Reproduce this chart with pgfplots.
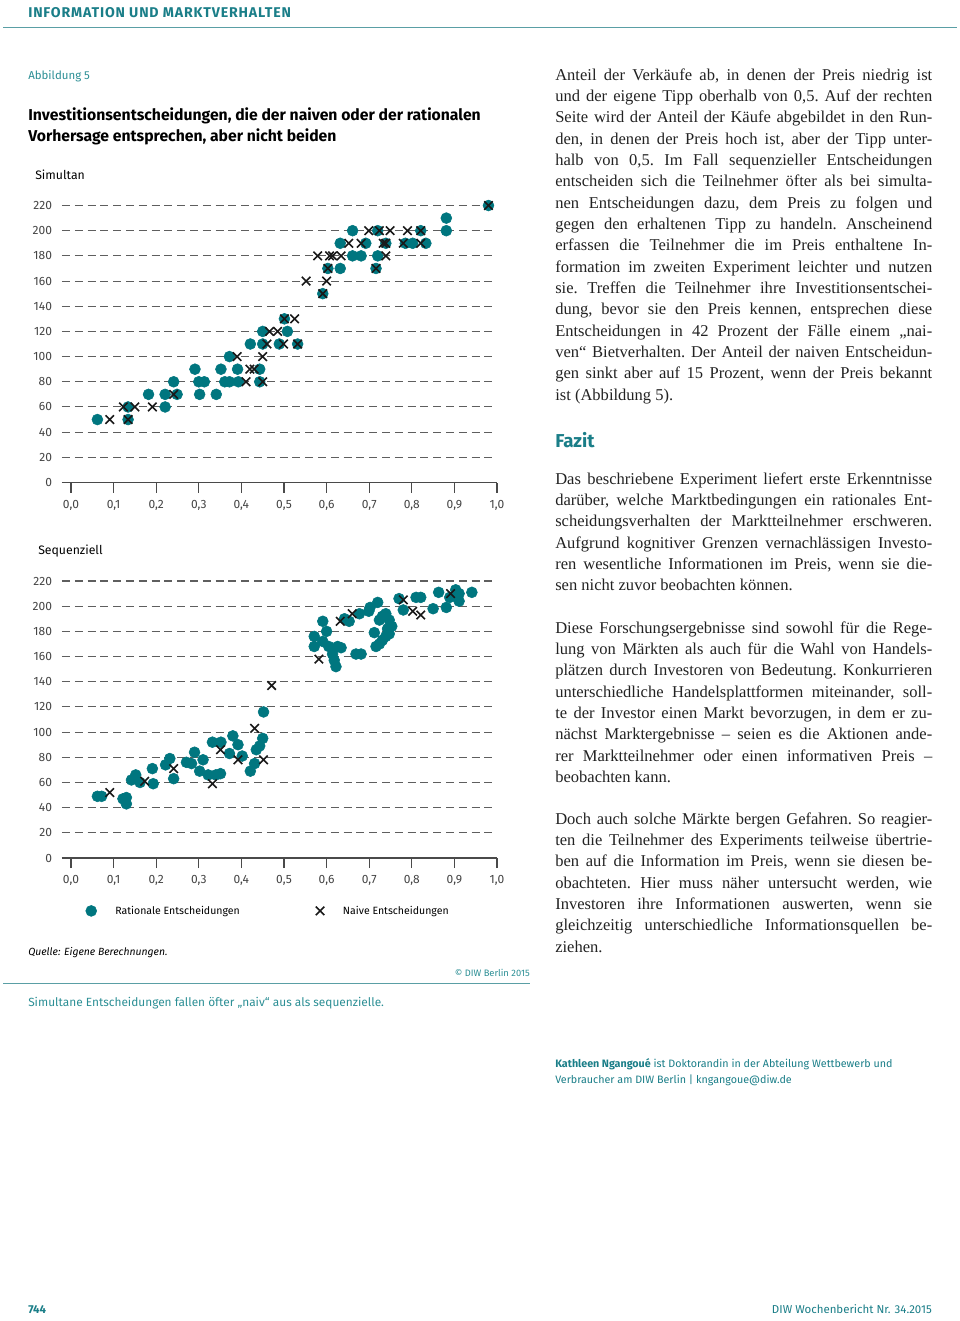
\documentclass[border=0pt]{standalone}
\usepackage{fontspec}
\usepackage{graphicx}
\usepackage{pgfplots}
\pgfplotsset{compat=1.18}
\setmainfont{Liberation Serif}
\newfontfamily\fs{Fira Sans}
\definecolor{diwteal}{HTML}{1A7E88}
\definecolor{capteal}{HTML}{2C8F95}
\definecolor{dotteal}{HTML}{00767F}
\definecolor{lineteal}{HTML}{5A9FA5}
\definecolor{axisgray}{HTML}{4A4A4A}
\definecolor{gridgray}{HTML}{5E5E5E}
\definecolor{ticklab}{HTML}{444444}
\definecolor{bodytext}{HTML}{222222}
\newcommand{\BW}{282.75pt}
\newlength\natw
\newcommand{\bodyfont}{\fontsize{12.4pt}{16pt}\selectfont\frenchspacing\color{bodytext}}
\newcommand{\fitline}[1]{\settowidth{\natw}{#1}\ifdim\natw>\BW\relax\resizebox{\BW}{\height}{#1}\else\makebox[\BW][s]{#1}\fi}
\newcommand{\JL}[2]{\node[anchor=base west,inner sep=0pt] at (555,#1) {\bodyfont\fitline{#2}};}
\newcommand{\LL}[2]{\node[anchor=base west,inner sep=0pt] at (555,#1) {\bodyfont #2};}
\pgfplotsset{diwaxis/.style={
  scale only axis, width=326.25pt, height=207.75pt,
  xmin=-0.0211, xmax=1, ymin=0, ymax=220,
  axis x line*=bottom, axis y line*=left,
  y axis line style={draw=none},
  x axis line style={draw=axisgray, line width=0.9pt},
  xtick={0,0.1,0.2,0.3,0.4,0.5,0.6,0.7,0.8,0.9,1},
  ytick={0,20,40,60,80,100,120,140,160,180,200,220},
  xtick align=outside, major tick length=7.5pt,
  xtick style={draw=axisgray, line width=0.9pt},
  ytick style={draw=none},
  ymajorgrids, grid style={dash pattern=on 6pt off 3.6pt, line width=0.8pt, color=gridgray},
  tick label style={font=\fs\fontsize{9pt}{10pt}\selectfont, color=ticklab, /pgf/number format/assume math mode=true},
  xticklabel style={/pgf/number format/.cd, fixed, fixed zerofill, precision=1, use comma, /tikz/.cd, yshift=-2pt},
  yticklabel style={/pgf/number format/.cd, fixed, precision=0, /tikz/.cd, xshift=-4pt},
  clip=false,
}, rat/.style={only marks, mark=*, mark size=4.1pt, color=dotteal, mark options={draw=dotteal, fill=dotteal}},
   nai/.style={only marks, mark=x, mark size=4.5pt, color=black!90, mark options={line width=1.2pt}},
   myleg/.style={legend image code/.code={\draw[##1] plot coordinates {(0pt,0pt)};}}}
\begin{document}
\begin{tikzpicture}
\begin{scope}[x=0.75pt,y=-0.75pt]
\fill[white] (0,0) rectangle (960,1321);
\path[use as bounding box] (0,0) rectangle (960,1321);
% header
\node[anchor=base west,inner sep=0pt,text=diwteal] at (28,17) {\fs\bfseries\fontsize{10.6pt}{11pt}\selectfont\addfontfeatures{LetterSpace=6}INFORMATION UND MARKTVERHALTEN};
\draw[lineteal,line width=1.4pt] (3,27.5) -- (957,27.5);
% left figure texts
\node[anchor=base west,inner sep=0pt,text=capteal] at (28,79) {\fs\fontsize{8.6pt}{10pt}\selectfont Abbildung 5};
\node[anchor=base west,inner sep=0pt] at (28,120) {\fs\bfseries\fontsize{11.8pt}{12pt}\selectfont Investitionsentscheidungen, die der naiven oder der rationalen};
\node[anchor=base west,inner sep=0pt] at (28,141) {\fs\bfseries\fontsize{11.8pt}{12pt}\selectfont Vorhersage entsprechen, aber nicht beiden};
\node[anchor=base west,inner sep=0pt] at (35,179.5) {\fs\fontsize{9.2pt}{11pt}\selectfont Simultan};
\node[anchor=base west,inner sep=0pt] at (38,554.5) {\fs\fontsize{9.2pt}{11pt}\selectfont Sequenziell};
\node[anchor=base west,inner sep=0pt] at (28,955.5) {\fs\itshape\fontsize{7.8pt}{9pt}\selectfont Quelle: Eigene Berechnungen.};
\node[anchor=base east,inner sep=0pt,text=capteal] at (530,976.5) {\fs\fontsize{7pt}{8pt}\selectfont \textcopyright{} DIW Berlin 2015};
\draw[lineteal,line width=1.1pt] (3,983.5) -- (530,983.5);
\node[anchor=base west,inner sep=0pt,text=capteal] at (28,1006.5) {\fs\fontsize{8.9pt}{11pt}\selectfont Simultane Entscheidungen fallen öfter „naiv“ aus als sequenzielle.};
% right column
\JL{80}{Anteil der Verkäufe ab, in denen der Preis niedrig ist}
\JL{101.3}{und der eigene Tipp oberhalb von 0,5. Auf der rechten}
\JL{122.7}{Seite wird der Anteil der Käufe abgebildet in den Run-}
\JL{144}{den, in denen der Preis hoch ist, aber der Tipp unter-}
\JL{165.3}{halb von 0,5. Im Fall sequenzieller Entscheidungen}
\JL{186.7}{entscheiden sich die Teilnehmer öfter als bei simulta-}
\JL{208}{nen Entscheidungen dazu, dem Preis zu folgen und}
\JL{229.3}{gegen den erhaltenen Tipp zu handeln. Anscheinend}
\JL{250.7}{erfassen die Teilnehmer die im Preis enthaltene In-}
\JL{272}{formation im zweiten Experiment leichter und nutzen}
\JL{293.3}{sie. Treffen die Teilnehmer ihre Investitionsentschei-}
\JL{314.7}{dung, bevor sie den Preis kennen, entsprechen diese}
\JL{336}{Entscheidungen in 42 Prozent der Fälle einem „nai-}
\JL{357.3}{ven“ Bietverhalten. Der Anteil der naiven Entscheidun-}
\JL{378.7}{gen sinkt aber auf 15 Prozent, wenn der Preis bekannt}
\LL{400}{ist (Abbildung 5).}
\node[anchor=base west,inner sep=0pt,text=diwteal] at (555,447.5) {\fs\bfseries\fontsize{14pt}{15pt}\selectfont Fazit};
\JL{484}{Das beschriebene Experiment liefert erste Erkenntnisse}
\JL{505.3}{darüber, welche Marktbedingungen ein rationales Ent-}
\JL{526.7}{scheidungsverhalten der Marktteilnehmer erschweren.}
\JL{548}{Aufgrund kognitiver Grenzen vernachlässigen Investo-}
\JL{569.3}{ren wesentliche Informationen im Preis, wenn sie die-}
\LL{590.7}{sen nicht zuvor beobachten können.}
\JL{633}{Diese Forschungsergebnisse sind sowohl für die Rege-}
\JL{654.3}{lung von Märkten als auch für die Wahl von Handels-}
\JL{675.7}{plätzen durch Investoren von Bedeutung. Konkurrieren}
\JL{697}{unterschiedliche Handelsplattformen miteinander, soll-}
\JL{718.3}{te der Investor einen Markt bevorzugen, in dem er zu-}
\JL{739.7}{nächst Marktergebnisse – seien es die Aktionen ande-}
\JL{761}{rer Marktteilnehmer oder einen informativen Preis –}
\LL{782.3}{beobachten kann.}
\JL{824}{Doch auch solche Märkte bergen Gefahren. So reagier-}
\JL{845.3}{ten die Teilnehmer des Experiments teilweise übertrie-}
\JL{866.7}{ben auf die Information im Preis, wenn sie diesen be-}
\JL{888}{obachteten. Hier muss näher untersucht werden, wie}
\JL{909.3}{Investoren ihre Informationen auswerten, wenn sie}
\JL{930.7}{gleichzeitig unterschiedliche Informationsquellen be-}
\LL{952}{ziehen.}
% author
\node[anchor=base west,inner sep=0pt,text=diwteal] at (555,1067) {\fs\fontsize{8.05pt}{10pt}\selectfont\textbf{Kathleen Ngangoué} ist Doktorandin in der Abteilung Wettbewerb und};
\node[anchor=base west,inner sep=0pt,text=diwteal] at (555,1083) {\fs\fontsize{8.05pt}{10pt}\selectfont Verbraucher am DIW Berlin | kngangoue@diw.de};
% footer
\node[anchor=base west,inner sep=0pt,text=diwteal] at (28,1313) {\fs\bfseries\fontsize{8.6pt}{10pt}\selectfont 744};
\node[anchor=base east,inner sep=0pt,text=diwteal] at (932,1313) {\fs\fontsize{8.6pt}{10pt}\selectfont DIW Wochenbericht Nr. 34.2015};
\end{scope}

% ---------- top axis: Simultan
\begin{axis}[diwaxis, at={(46.5pt,-361.875pt)}, anchor=south west]
\addplot[rat] table {
x y
0.062 50
0.134 50
0.134 60
0.182 70
0.221 60
0.221 70
0.249 70
0.241 80
0.291 90
0.300 80
0.313 80
0.302 70
0.341 70
0.352 90
0.361 80
0.372 80
0.393 80
0.391 90
0.372 100
0.421 110
0.443 90
0.443 80
0.450 110
0.489 110
0.450 120
0.508 120
0.501 130
0.532 110
0.591 150
0.603 170
0.632 170
0.716 170
0.661 180
0.681 180
0.720 180
0.632 190
0.692 190
0.739 190
0.785 190
0.802 190
0.833 190
0.661 200
0.720 200
0.821 200
0.881 200
0.881 210
0.980 220
};
\addplot[nai] table {
x y
0.091 50
0.134 50
0.123 60
0.150 60
0.191 60
0.241 70
0.390 100
0.411 80
0.420 90
0.430 90
0.450 80
0.450 100
0.460 110
0.499 110
0.466 120
0.485 120
0.501 130
0.525 130
0.532 110
0.552 160
0.600 160
0.591 150
0.603 170
0.716 170
0.579 180
0.607 180
0.614 180
0.634 180
0.739 180
0.652 190
0.681 190
0.733 190
0.739 190
0.780 190
0.821 190
0.699 200
0.724 200
0.749 200
0.790 200
0.821 200
0.980 220
};
\end{axis}

% ---------- bottom axis: Sequenziell
\begin{axis}[diwaxis, at={(46.5pt,-643.5pt)}, anchor=south west,
  legend columns=2,
  legend style={at={(0.054,-0.191)}, anchor=west, draw=none, fill=none, inner sep=0pt,
    font=\fs\fontsize{7.9pt}{10pt}\selectfont,
    /tikz/every odd column/.append style={column sep=12pt},
    /tikz/every even column/.append style={column sep=55pt}},
  legend cell align=left]
\addplot[rat, myleg] table {
x y
0.062 49
0.072 49
0.122 47
0.130 48
0.130 43
0.142 62
0.152 66
0.162 60
0.191 71
0.193 59
0.222 74
0.232 79
0.241 63
0.271 76
0.283 75
0.290 84
0.310 78
0.302 69
0.322 66
0.340 66
0.351 67
0.332 92
0.352 92
0.372 83
0.380 97
0.392 90
0.402 81
0.421 69
0.431 75
0.435 86
0.443 89
0.450 95
0.452 116
0.571 176
0.571 168
0.591 188
0.600 180
0.591 172
0.605 168
0.614 162
0.622 152
0.618 157
0.626 168
0.634 167
0.642 190
0.653 188
0.677 194
0.699 196
0.702 199
0.720 203
0.669 162
0.681 162
0.712 179
0.716 168
0.724 170
0.731 173
0.739 176
0.747 178
0.724 189
0.731 192
0.739 194
0.747 189
0.753 184
0.743 182
0.770 206
0.780 197
0.810 207
0.821 207
0.850 198
0.863 211
0.881 199
0.889 207
0.903 213
0.911 210
0.911 204
0.941 211
};
\addlegendentry{Rationale Entscheidungen}
\addplot[nai, myleg] table {
x y
0.091 52
0.173 61
0.241 71
0.332 59
0.351 86
0.392 78
0.431 103
0.452 78
0.471 137
0.582 158
0.632 188
0.660 194
0.780 205
0.802 196
0.821 193
0.891 210
};
\addlegendentry{Naive Entscheidungen}
\end{axis}
\end{tikzpicture}
\end{document}
